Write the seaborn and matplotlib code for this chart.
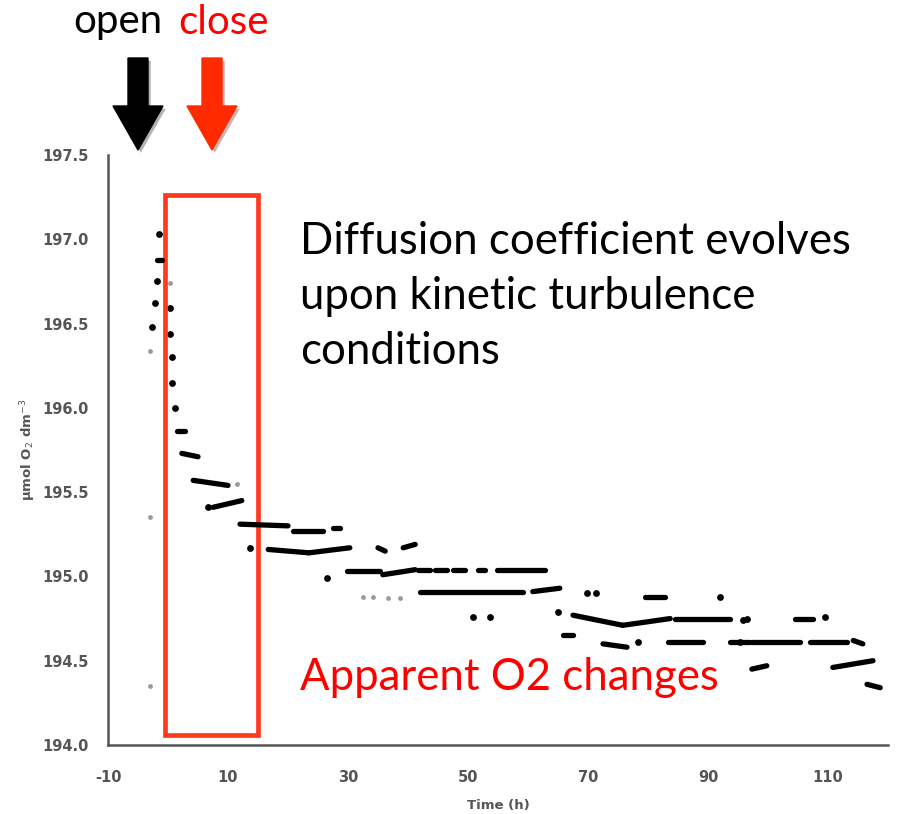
import matplotlib
matplotlib.use("Agg")
import matplotlib.pyplot as plt
import matplotlib.patheffects as pe
from matplotlib.patches import Rectangle, FancyArrow
import numpy as np
import pandas as pd
import seaborn as sns

# Continuous runs of O2 readings: start/end time (h) and O2 level at each end
seg_t0 = [-1.8, 1.5, 2.3, 4.2, 7.5, 12.0, 20.8, 27.5, 16.7, 23.5, 29.8, 35.8, 35.0, 39.2,
          41.7, 44.5, 47.5, 51.7, 54.8, 42.0, 60.8, 67.5, 75.8, 84.5, 65.8, 72.5, 83.3,
          93.7, 97.3, 107.0, 114.2, 79.5, 104.5, 97.3, 110.8, 116.5]
seg_t1 = [-1.0, 2.8, 5.0, 10.0, 12.3, 20.0, 25.8, 28.7, 23.5, 30.3, 35.3, 41.2, 36.2, 41.2,
          43.7, 46.5, 49.5, 52.8, 62.8, 59.2, 65.3, 75.8, 83.7, 93.7, 67.5, 76.5, 89.2,
          97.0, 105.3, 113.2, 115.8, 82.8, 107.5, 99.8, 117.5, 118.7]
seg_o2_0 = [196.88, 195.86, 195.73, 195.57, 195.41, 195.31, 195.27, 195.29, 195.16, 195.14,
            195.03, 195.01, 195.17, 195.17, 195.04, 195.04, 195.04, 195.04, 195.04, 194.91,
            194.91, 194.77, 194.71, 194.75, 194.65, 194.60, 194.61, 194.61, 194.61, 194.61,
            194.62, 194.88, 194.75, 194.45, 194.46, 194.36]
seg_o2_1 = [196.88, 195.86, 195.71, 195.54, 195.45, 195.30, 195.27, 195.29, 195.14, 195.17,
            195.03, 195.04, 195.15, 195.19, 195.04, 195.04, 195.04, 195.04, 195.04, 194.91,
            194.93, 194.71, 194.75, 194.75, 194.65, 194.58, 194.61, 194.61, 194.61, 194.61,
            194.60, 194.88, 194.75, 194.47, 194.50, 194.34]

# Single readings
dot_t = [-1.5, -1.8, -2.2, -2.7, 0.3, 0.3, 0.7, 0.7, 1.2, 6.7, 13.7, 26.5, 50.8, 53.7,
         65.0, 69.8, 71.3, 92.0, 95.8, 96.5, 109.5, 78.3, 95.3]
dot_o2 = [197.03, 196.75, 196.62, 196.48, 196.59, 196.44, 196.30, 196.15, 196.00, 195.41,
          195.17, 194.99, 194.76, 194.76, 194.79, 194.90, 194.90, 194.88, 194.74, 194.75,
          194.76, 194.61, 194.61]
# Faint readings
faint_t = [-3.0, -3.0, -3.0, 0.3, 11.5, 32.5, 34.2, 36.7, 38.7]
faint_o2 = [196.34, 195.35, 194.35, 196.74, 195.55, 194.88, 194.88, 194.87, 194.87]

x_ticks = [-10, 10, 30, 50, 70, 90, 110]
y_ticks = [194.0, 194.5, 195.0, 195.5, 196.0, 196.5, 197.0, 197.5]

sns.set_style("white")
plt.rcParams["axes.unicode_minus"] = False

fig = plt.figure(figsize=(9.06, 8.14), dpi=100)
ax = fig.add_axes([108 / 906, 69 / 814, 780 / 906, 590 / 814])

seg_df = pd.DataFrame({
    "time": seg_t0 + seg_t1,
    "o2": seg_o2_0 + seg_o2_1,
    "run": list(range(len(seg_t0))) * 2,
})
sns.lineplot(data=seg_df, x="time", y="o2", units="run", estimator=None,
             color="black", lw=3.8, sort=False, ax=ax, solid_capstyle="round")
sns.scatterplot(x=dot_t, y=dot_o2, color="black", s=24, linewidth=0, ax=ax)
sns.scatterplot(x=faint_t, y=faint_o2, color="#9a9a9a", s=12, linewidth=0, ax=ax)

ax.set_xlim(-10, 120)
ax.set_ylim(194.0, 197.5)
ax.set_xticks(x_ticks)
ax.set_yticks(y_ticks)
ax.set_yticklabels([f"{v:.1f}" for v in y_ticks])
for s in ["top", "right"]:
    ax.spines[s].set_visible(False)
for s in ["left", "bottom"]:
    ax.spines[s].set_color("#555555")
    ax.spines[s].set_linewidth(1.8)
ax.tick_params(axis="both", direction="out", length=4, width=1.2, color="#555555",
               labelsize=10.5, labelcolor="#555555")
ax.tick_params(axis="x", pad=14)
ax.tick_params(axis="y", pad=10)
for lab in ax.get_xticklabels() + ax.get_yticklabels():
    lab.set_fontweight("bold")
ax.set_xlabel("Time (h)", fontsize=9.5, color="#555555", fontweight="bold", labelpad=10)
ax.set_ylabel("µmol O$_2$ dm$^{-3}$", fontsize=9.5, color="#555555", fontweight="bold",
              labelpad=3)

# Window between opening and closing
ax.add_patch(Rectangle((-0.5, 194.06), 15.5, 3.2, fill=False, edgecolor="#ff3a21",
                       linewidth=3.4, clip_on=False))

font = "Lato"
fig.text(300 / 906, 1 - 221 / 814,
         "Diffusion coefficient evolves\nupon kinetic turbulence\nconditions",
         fontsize=31.5, family=font, color="black", ha="left", va="top", linespacing=1.42)
fig.text(300 / 906, 1 - 678 / 814, "Apparent O2 changes", fontsize=31.5, family=font,
         color="#ff0000", ha="left", va="center")
fig.text(118 / 906, 1 - 22 / 814, "open", fontsize=29, family=font, color="black",
         ha="center", va="center")
fig.text(223 / 906, 1 - 22 / 814, "close", fontsize=29, family=font, color="#ff0000",
         ha="center", va="center")

shadow = [pe.SimplePatchShadow(offset=(2, -2), alpha=0.3), pe.Normal()]
for xc, col in [(1.38, "black"), (2.12, "#ff2a00")]:
    arr = FancyArrow(xc, 8.14 - 0.58, 0, -0.92, width=0.20, head_width=0.50,
                     head_length=0.44, length_includes_head=True, color=col,
                     transform=fig.dpi_scale_trans)
    arr.set_path_effects(shadow)
    fig.add_artist(arr)

fig.savefig("out.png", dpi=100)
